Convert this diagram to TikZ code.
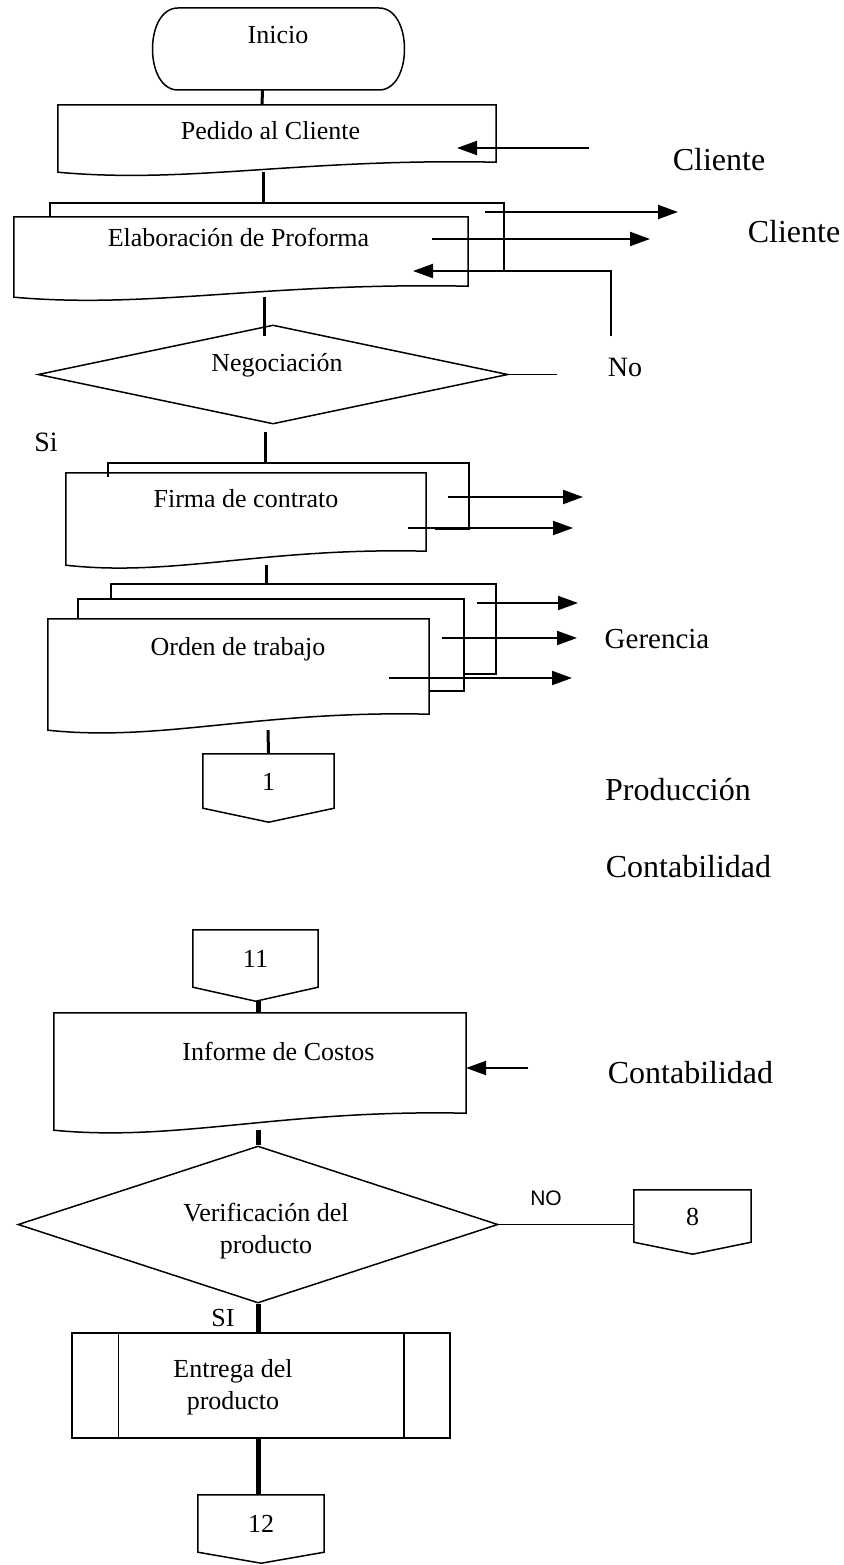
\documentclass[tikz,border=0pt]{standalone}
\usepackage{fontspec}
\setmainfont{Liberation Serif}
\newfontfamily\nofont{Liberation Sans}
\usepackage{tikz}
\usetikzlibrary{positioning,shapes.geometric,arrows.meta}

\tikzset{
	box/.style={draw=black,line width=1.5pt},
	area/.style={inner sep=0pt},
	txt/.style={inner sep=0pt,font=\fontsize{26}{31.5}\selectfont,text height=18pt,text depth=0pt},
	twoline/.style={inner sep=0pt,font=\fontsize{26}{31.5}\selectfont,align=center},
	sidelbl/.style={inner sep=0pt,font=\fontsize{32}{38}\selectfont,text height=21pt,text depth=0pt},
	yesno/.style={inner sep=0pt,font=\fontsize{28}{33}\selectfont,text height=19pt,text depth=0pt},
	flow/.style={line width=3pt},
	bigflow/.style={line width=5pt},
	arr/.style={line width=2pt,-{Triangle[length=20pt,width=14pt]}},
}

\begin{document}
\begin{tikzpicture}[x=1pt,y=-1pt]
		\useasboundingbox (0,0) rectangle (843,1565);
		% inicio
		\node[area,minimum width=251pt,minimum height=82pt] (ini) at (278.5,49) {};
		\draw[box] (178,8) -- (379,8) .. controls (413,8) and (413,90) .. (379,90) -- (178,90) .. controls (144,90) and (144,8) .. (178,8) -- cycle;
		\node[txt] (initxt) at (278,35) {Inicio};
		% pedido
		\node[area,minimum width=438pt,minimum height=67pt] (ped) at (277,138.5) {};
		\draw[box] (ped.south west) -- (ped.north west) -- (ped.north east) -- ([yshift=10pt]ped.south east) .. controls +(-197,-4) and +(131,12) .. (ped.south west) -- cycle;
		\node[txt] (pedtxt) at (270.5,131) {Pedido al Cliente};
		\draw[flow] ([xshift=-16pt]ini.south) -- ([xshift=-15pt]ped.north);
		\coordinate (pedin) at (589,148);
		\draw[arr] (pedin) -- ++(-132,0);
		\node[sidelbl] (cli1) at (719,160) {Cliente};
		% elaboracion
		\node[area,minimum width=454pt,minimum height=68pt] (elabB) at (277,237) {};
		\draw[box] ([yshift=-14pt]elabB.north west) -- (elabB.north west) -- (elabB.north east) -- (elabB.south east);
		\node[area,minimum width=454pt,minimum height=80pt] (elab) at (241,257) {};
		\draw[box] (elab.south west) -- (elab.north west) -- (elab.north east) -- ([yshift=11pt]elab.south east) .. controls +(-204,-4) and +(136,12) .. (elab.south west) -- cycle;
		\node[txt] (elabtxt) at (238.5,237) {Elaboración de Proforma};
		\draw[flow] ([xshift=-14pt]ped.south) -- ([xshift=-14pt]elabB.north);
		\coordinate (elabout1) at (485,212);
		\draw[arr] (elabout1) -- ++(193,0);
		\coordinate (elabout2) at (432,239);
		\draw[arr] (elabout2) -- ++(218,0);
		\node[sidelbl] (cli2) at (794,232) {Cliente};
		% negociacion
		\node[diamond,box,minimum width=470pt,minimum height=99pt,inner sep=0pt] (neg) at (273,374.5) {};
		\node[txt] (negtxt) at (277,362) {Negociación};
		\draw[flow] ([xshift=23pt]elab.south) -- ++(0,39);
		\draw[box] (neg.east) -- ++(48,0);
		\node[yesno] (no1) at (625,367) {No};
		\coordinate (noret) at (611,336);
		\draw[arr] (noret) -- ++(0,-65) -- ++(-198,0);
		\node[yesno] (si1) at (46,442) {Si};
		% firma
		\node[area,minimum width=361pt,minimum height=66pt] (firB) at (288.5,496) {};
		\draw[box] ([yshift=-14pt]firB.north west) -- (firB.north west) -- (firB.north east) -- (firB.south east) -- ++(-34,0);
		\node[area,minimum width=360pt,minimum height=92pt] (fir) at (246,519) {};
		\draw[box] (fir.south west) -- (fir.north west) -- (fir.north east) -- ([yshift=14pt]fir.south east) .. controls +(-162,-4) and +(108,12) .. (fir.south west) -- cycle;
		\node[txt] (firtxt) at (246,498) {Firma de contrato};
		\draw[flow] ([xshift=-8pt,yshift=-7pt]neg.south) -- ([xshift=-23.5pt]firB.north);
		\coordinate (firout1) at (448,497);
		\draw[arr] (firout1) -- ++(135,0);
		\coordinate (firout2) at (408,528);
		\draw[arr] (firout2) -- ++(165,0);
		% orden
		\node[area,minimum width=385pt,minimum height=90pt] (ordC) at (303.5,629) {};
		\draw[box] ([yshift=-15pt]ordC.north west) -- (ordC.north west) -- (ordC.north east) -- (ordC.south east) -- ++(-31,0);
		\node[area,minimum width=386pt,minimum height=92pt] (ordB) at (271,645) {};
		\draw[box] ([yshift=-20pt]ordB.north west) -- (ordB.north west) -- (ordB.north east) -- (ordB.south east) -- ++(-35,0);
		\node[area,minimum width=381pt,minimum height=111pt] (ord) at (238.5,674.5) {};
		\draw[box] (ord.south west) -- (ord.north west) -- (ord.north east) -- ([yshift=16pt]ord.south east) .. controls +(-171,-4) and +(114,12) .. (ord.south west) -- cycle;
		\node[txt] (ordtxt) at (238,646) {Orden de trabajo};
		\draw[flow] ([xshift=20pt]fir.south) -- ([xshift=-37.5pt]ordC.north);
		\coordinate (ordout1) at (477,603);
		\draw[arr] (ordout1) -- ++(101,0);
		\coordinate (ordout2) at (442,638);
		\draw[arr] (ordout2) -- ++(135,0);
		\coordinate (ordout3) at (389,678);
		\draw[arr] (ordout3) -- ++(183,0);
		\node[sidelbl,font=\fontsize{29}{35}\selectfont] (ger) at (657,638) {Gerencia};
		% conector 1
		\node[area,txt,minimum width=131pt,minimum height=54pt] (c1) at (268.5,781) {1};
		\draw[box] (c1.south west) -- (c1.north west) -- (c1.north east) -- (c1.south east) -- ++(-65.5,14) -- cycle;
		\draw[flow] ([xshift=29.5pt]ord.south) -- (c1.north);
		\node[sidelbl] (prod) at (678,790) {Producción};
		\node[sidelbl] (cont1) at (688.5,867) {Contabilidad};
		% conector 11 e informe
		\node[area,txt,minimum width=125pt,minimum height=57pt] (c11) at (255.5,958.5) {11};
		\draw[box] (c11.south west) -- (c11.north west) -- (c11.north east) -- (c11.south east) -- ++(-62.5,14) -- cycle;
		\node[area,minimum width=412pt,minimum height=117pt] (inf) at (260,1071.5) {};
		\draw[box] (inf.south west) -- (inf.north west) -- (inf.north east) -- ([yshift=17pt]inf.south east) .. controls +(-185,-4) and +(124,12) .. (inf.south west) -- cycle;
		\node[txt] (inftxt) at (278.5,1051) {Informe de Costos};
		\draw[bigflow] ([xshift=2.5pt,yshift=-14pt]c11.south) -- ([xshift=-2pt]inf.north);
		\coordinate (infin) at (528,1068);
		\draw[arr] (infin) -- ++(-62,0);
		\node[sidelbl] (cont2) at (690.5,1073) {Contabilidad};
		% verificacion
		\node[diamond,box,minimum width=480pt,minimum height=157pt,inner sep=0pt] (ver) at (258,1224.5) {};
		\node[twoline] (vertxt) at (266,1231) {Verificación del\\producto};
		\draw[bigflow] ([xshift=-2pt]inf.south) -- (ver.north);
		\node[area,txt,minimum width=117pt,minimum height=52pt] (c8) at (692.5,1216) {8};
		\draw[box] (c8.south west) -- (c8.north west) -- (c8.north east) -- (c8.south east) -- ++(-58.5,12) -- cycle;
		\draw[box] (ver.east) -- (ver.east -| c8.west);
		\node[inner sep=0pt,font=\nofont\fontsize{21}{25}\selectfont,text height=15pt,text depth=0pt] (no2) at (546,1198) {NO};
		\node[txt] (si2) at (223,1317) {SI};
		% entrega
		\node[box,minimum width=378pt,minimum height=105pt] (ent) at (261,1385.5) {};
		\draw[box] ([xshift=47pt]ent.north west) -- ([xshift=47pt]ent.south west);
		\draw[box] ([xshift=-47pt]ent.north east) -- ([xshift=-47pt]ent.south east);
		\node[twoline] (enttxt) at (233,1387) {Entrega del\\producto};
		\draw[bigflow] (ver.south) -- (ver.south |- ent.north);
		% conector 12
		\node[area,txt,minimum width=126pt,minimum height=57pt] (c12) at (261,1523.5) {12};
		\draw[box] (c12.south west) -- (c12.north west) -- (c12.north east) -- (c12.south east) -- ++(-63,11) -- cycle;
		\draw[bigflow] ([xshift=-3pt]ent.south) -- ([xshift=-3pt]ent.south |- c12.north);
	\end{tikzpicture}
\end{document}
